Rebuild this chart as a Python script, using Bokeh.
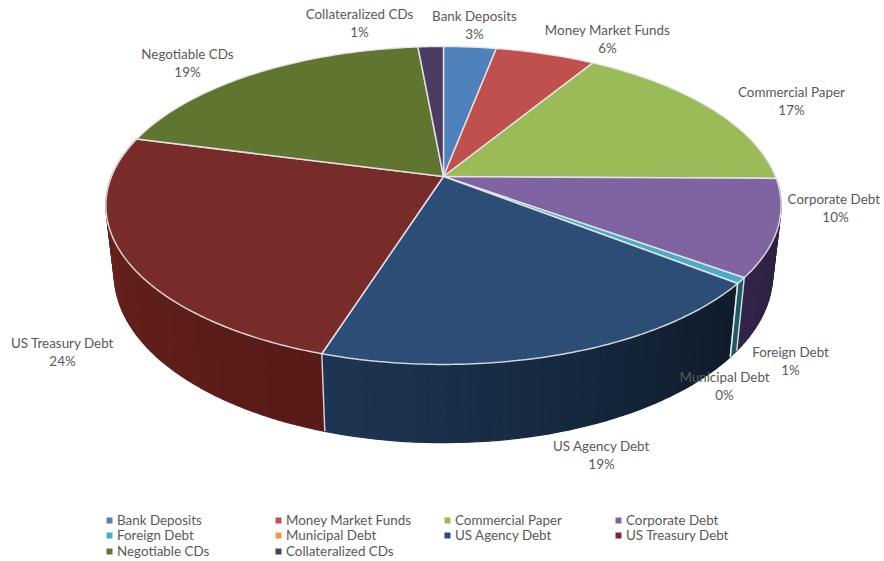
import math
from bokeh.plotting import figure
from bokeh.core.properties import value
from bokeh.embed import file_html
from bokeh.resources import INLINE

categories = ["Bank Deposits", "Money Market Funds", "Commercial Paper", "Corporate  Debt",
              "Foreign Debt", "Municipal Debt", "US Agency Debt", "US Treasury Debt",
              "Negotiable CDs", "Collateralized CDs"]
shares = [3.0, 5.7, 16.5, 9.8, 0.6, 0.0, 19.3, 24.2, 19.45, 1.45]
pct_labels = ["3%", "6%", "17%", "10%", "1%", "0%", "19%", "24%", "19%", "1%"]
colors = ["#4F81BD", "#C0504D", "#9BBB59", "#8064A2", "#4BACC6",
          "#F79646", "#2C4D75", "#772C2A", "#5F7530", "#4D3B62"]

# wall shading at the left and right end of each visible slice
wall_left = {3: (50, 37, 74), 4: (31, 91, 96), 6: (30, 54, 84), 7: (107, 36, 33)}
wall_right = {3: (44, 32, 56), 4: (31, 91, 96), 6: (15, 28, 42), 7: (88, 27, 23)}

# (centre x, name y) of each data label, page pixels
label_pos = [(474, 15), (607, 29), (791, 91), (835, 198), (790, 351),
             (724, 376), (601, 445), (62, 342), (187, 53), (359, 13)]
legend_cols = [109, 278, 447, 618]
legend_rows = [520, 535, 551]

CX, CY, A, B, Q = 443.0, 176.0, 153.7, 332.0, 0.182
SX, SY, DY = 0.975, 1.06, 243.0


def top(t):
    d = 1 + Q * math.cos(t)
    return CX + B * math.sin(t) / d, CY - A * math.cos(t) / d


def bottom(t):
    x, y = top(t)
    return CX + SX * (x - CX), DY + SY * (y - CY)


p = figure(width=884, height=561, x_range=(0, 884), y_range=(561, 0),
           output_backend="svg", toolbar_location=None, min_border=0)
p.axis.visible = False
p.grid.visible = False
p.outline_line_color = None
p.background_fill_color = "white"
p.border_fill_color = "white"

total = sum(shares)
starts, cum = [], 0.0
for s in shares:
    starts.append(cum / total * 2 * math.pi)
    cum += s
ends = starts[1:] + [2 * math.pi]

# side walls
wx, wy, wc = [], [], []
step = math.radians(1.5)
for i in wall_left:
    n = max(1, int((ends[i] - starts[i]) / step))
    for k in range(n):
        t0 = starts[i] + (ends[i] - starts[i]) * k / n
        t1 = starts[i] + (ends[i] - starts[i]) * (k + 1) / n
        f = (k + .5) / n  # clockwise: right end first on the front side
        c = tuple(int(wall_right[i][j] + (wall_left[i][j] - wall_right[i][j]) * f) for j in range(3))
        x0, y0 = top(t0); x1, y1 = top(t1)
        x2, y2 = bottom(t1); x3, y3 = bottom(t0)
        wx.append([x0, x1, x2, x3]); wy.append([y0, y1, y2, y3])
        wc.append("#%02x%02x%02x" % c)
p.patches(wx, wy, fill_color=wc, line_color=wc, line_width=1.2)

# white seams on the wall
for t in (starts[4], starts[5], starts[7], ends[5]):
    x0, y0 = top(t); x1, y1 = bottom(t)
    p.line([x0, x1], [y0, y1], line_color="#e6ecf0", line_width=1.4, line_alpha=0.9)

# top face
fx, fy, fc = [], [], []
for i in range(len(shares)):
    n = max(2, int((ends[i] - starts[i]) / math.radians(0.7)))
    xs, ys = [CX], [CY]
    for k in range(n + 1):
        x, y = top(starts[i] + (ends[i] - starts[i]) * k / n)
        xs.append(x); ys.append(y)
    fx.append(xs); fy.append(ys); fc.append(colors[i])
p.patches(fx, fy, fill_color=fc, line_color="#e8e8ec", line_width=1.5, line_alpha=0.9)

# data labels
txt = dict(text_font=value("Lato"), text_font_size="13.4px", text_color="#595959",
           text_align="center", text_baseline="middle")
p.text([q[0] for q in label_pos], [q[1] for q in label_pos], text=categories, **txt)
p.text([q[0] for q in label_pos], [q[1] + 18 for q in label_pos], text=pct_labels, **txt)

# legend
lx, ly = [], []
for i in range(len(categories)):
    lx.append(legend_cols[i % 4]); ly.append(legend_rows[i // 4])
p.scatter(lx, ly, marker="square", size=6, fill_color=colors, line_color=None)
p.text([x + 7.5 for x in lx], [y - 0.5 for y in ly], text=categories, text_font=value("Lato"),
       text_font_size="13.4px", text_color="#595959", text_align="left", text_baseline="middle")

open("out.html", "w").write(file_html(p, INLINE))
